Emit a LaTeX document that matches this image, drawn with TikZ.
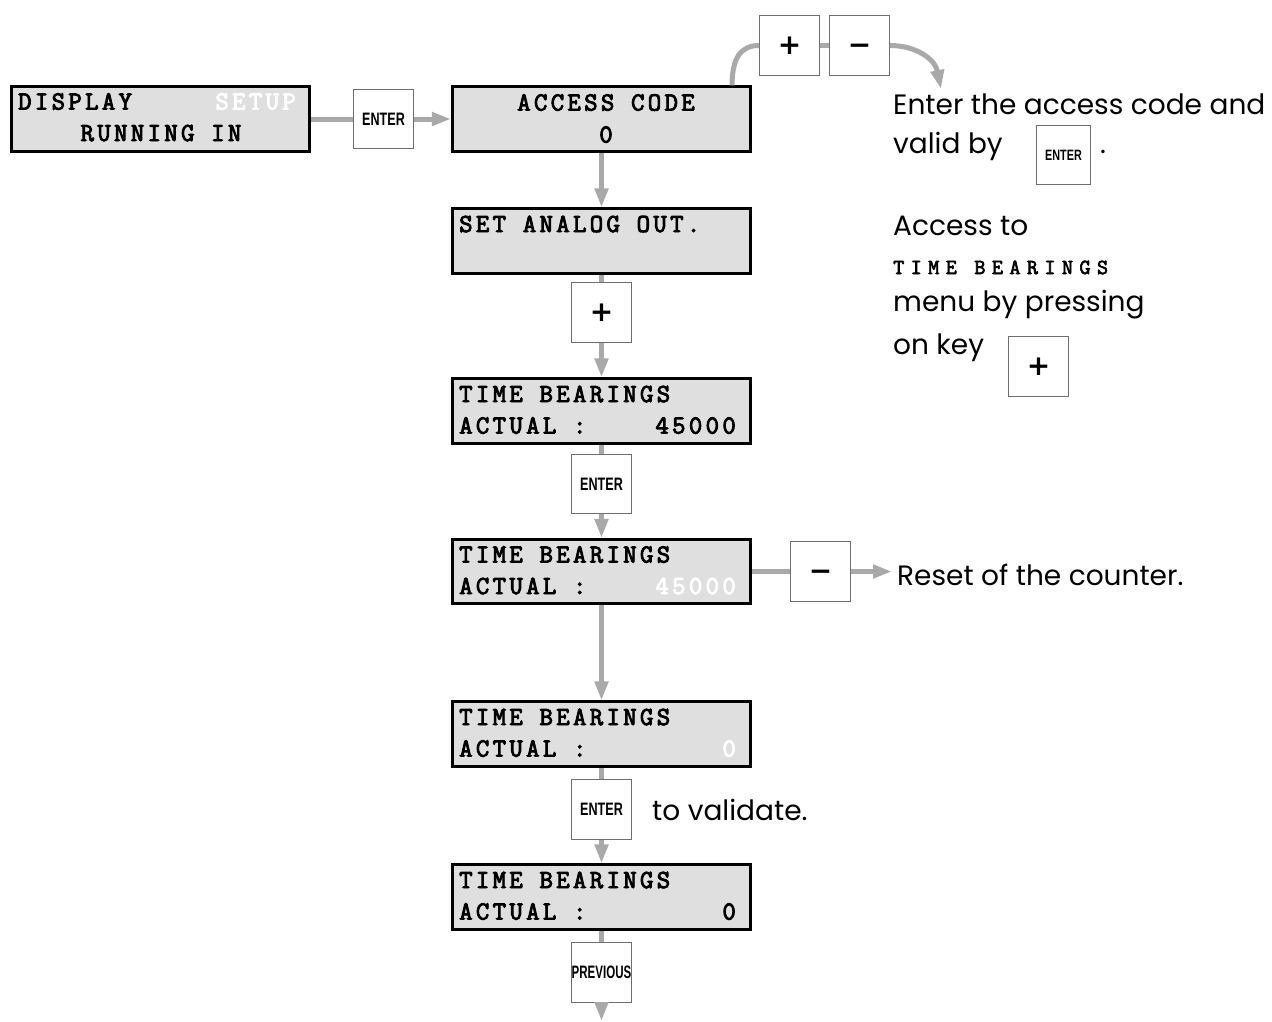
\documentclass[tikz,border=0pt]{standalone}
\usepackage{fontspec}
\usetikzlibrary{arrows.meta}
\setmainfont{Poppins}
\newfontfamily\lcdfont{Latin Modern Mono}[FakeBold=3.5, LetterSpace=12.9]
\newfontfamily\lcdsmall{Latin Modern Mono}[FakeBold=3, LetterSpace=30]
\newfontfamily\keyfont{Liberation Sans}
\newfontfamily\symfont{DejaVu Sans}
\definecolor{lcdgray}{HTML}{DFDFDF}
\definecolor{conngray}{HTML}{A9A9A9}
\definecolor{keyedge}{HTML}{6E6E6E}
\begin{document}
\begin{tikzpicture}[x=1pt,y=-1pt,
  lcd/.style={draw=black, line width=2.6pt, fill=lcdgray, minimum width=298.5pt, minimum height=64.5pt, inner sep=0pt},
  key/.style={draw=keyedge, line width=1.4pt, fill=white, minimum width=59.5pt, minimum height=59.5pt, inner sep=0pt},
  smallkey/.style={key, minimum width=53.5pt, minimum height=58.5pt},
  conn/.style={draw=conngray, line width=5pt},
  arr/.style={conn, -{Triangle[length=19pt,width=13pt]}},
  lt/.style={font=\lcdfont\fontsize{26}{26}\selectfont, inner sep=0pt},
  lw/.style={lt, text=white},
  body/.style={font=\fontsize{28}{28}\selectfont, inner sep=0pt, anchor=base west},
  klab/.style={font=\keyfont\bfseries\fontsize{18}{18}\selectfont},
  sklab/.style={font=\keyfont\bfseries\fontsize{15}{15}\selectfont},
  sym/.style={font=\symfont\bfseries\fontsize{28}{28}\selectfont},
]
\useasboundingbox (0,0) rectangle (1272,1021);

% LCD displays
\node[lcd] (disp) at (160.5,119) {};
\node[lcd] (acc) at (601.5,119) {};
\node[lcd] (set) at (601.5,241) {};
\node[lcd] (tb1) at (601.5,411) {};
\node[lcd] (tb2) at (601.5,571.5) {};
\node[lcd] (tb3) at (601.5,734) {};
\node[lcd] (tb4) at (601.5,897) {};

% LCD texts
\node[lt, anchor=base west] (d1) at (18,109.5) {DISPLAY};
\node[lw, anchor=base east] (d2) at (296,109.5) {SETUP};
\node[lt, anchor=base] (d3) at (161,141) {RUNNING IN};
\node[lt, anchor=base] (a1) at (606,110.5) {ACCESS CODE};
\node[lt, anchor=base] (a2) at (606,142.5) {0};
\node[lt, anchor=base west] (s1) at (459,232) {SET ANALOG OUT.};
\node[lt, anchor=base west] (b1) at (459,402) {TIME BEARINGS};
\node[lt, anchor=base west] (b2) at (459,433.5) {ACTUAL :};
\node[lt, anchor=base east] (b3) at (736,433.5) {45000};
\node[lt, anchor=base west] (c1) at (459,562.5) {TIME BEARINGS};
\node[lt, anchor=base west] (c2) at (459,594) {ACTUAL :};
\node[lw, anchor=base east] (c3) at (736,594) {45000};
\node[lt, anchor=base west] (e1) at (459,725) {TIME BEARINGS};
\node[lt, anchor=base west] (e2) at (459,756.5) {ACTUAL :};
\node[lw, anchor=base east] (e3) at (736,756.5) {0};
\node[lt, anchor=base west] (f1) at (459,888) {TIME BEARINGS};
\node[lt, anchor=base west] (f2) at (459,919.5) {ACTUAL :};
\node[lt, anchor=base east] (f3) at (736,919.5) {0};

% keys
\node[key, klab] (ke1) at (383.5,119) {\scalebox{0.7}[1]{ENTER}};
\node[key, sym] (kp1) at (789.5,45.5) {+};
\node[key, sym] (km1) at (859.5,45.5) {\smash{−}\vphantom{+}};
\node[key, sym] (kp2) at (601.5,312.5) {+};
\node[key, klab] (ke2) at (601.5,484) {\scalebox{0.7}[1]{ENTER}};
\node[key, sym] (km2) at (820.5,571.5) {\smash{−}\vphantom{+}};
\node[key, klab] (ke3) at (601.5,809.5) {\scalebox{0.7}[1]{ENTER}};
\node[key, klab] (kpr) at (601.5,972.5) {\scalebox{0.64}[1]{PREVIOUS}};
\node[smallkey, sklab] (ke4) at (1063.5,155) {\scalebox{0.72}[1]{ENTER}};
\node[key, sym] (kp3) at (1038.5,366.5) {+};

% body texts
\node[body] (t1) at (893,114) {Enter the access code and};
\node[body] (t2) at (893,153) {valid by};
\node[body] (t3) at (1100,153) {.};
\node[body] (t4) at (893,235) {Access to};
\node[inner sep=0pt, anchor=base west, font=\lcdsmall\fontsize{21.5}{21.5}\selectfont] (t5) at (893,274) {TIME BEARINGS};
\node[body] (t6) at (893,311) {menu by pressing};
\node[body] (t7) at (893,354) {on key};
\node[body] (reset) at (897,585) {Reset of the counter.};
\node[body] (val) at (652,820) {to validate.};

% connectors
\draw[conn] (disp) -- (ke1);
\draw[arr] (ke1) -- (acc);
\draw[arr] (acc) -- (set);
\draw[conn] (set) -- (kp2);
\draw[arr] (kp2) -- (tb1);
\draw[conn] (tb1) -- (ke2);
\draw[arr] (ke2) -- (tb2);
\draw[conn] (tb2) -- (km2);
\draw[arr, shorten >=5pt] (km2.east) -- (km2.east -| reset.west);
\draw[arr] (tb2) -- (tb3);
\draw[conn] (tb3) -- (ke3);
\draw[arr] (ke3) -- (tb4);
\draw[conn] (tb4) -- (kpr);
\coordinate (bot) at (601.5,1021);
\draw[arr] (kpr) -- (bot);
\draw[conn] (kp1) -- (km1);
\draw[conn] ([xshift=-20pt]acc.north east) .. controls +(0,-28) and +(-18,0) .. (kp1.west);
\coordinate (tipA) at (941,89);
\draw[arr] (km1.east) .. controls +(26,0) and +(-6,-30) .. (tipA);
\end{tikzpicture}
\end{document}
